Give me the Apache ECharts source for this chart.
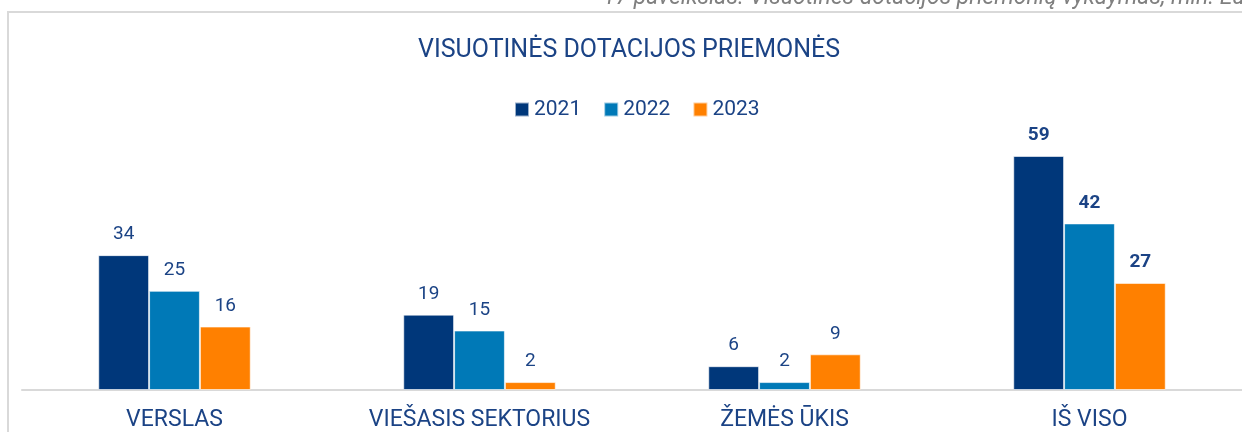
<!DOCTYPE html>
<html lang="lt">
<head>
  <meta charset="UTF-8">
  <title>Visuotinės dotacijos priemonės</title>
  <script src="https://cdn.jsdelivr.net/npm/echarts@6/dist/echarts.min.js"></script>
  <style>
    html, body { margin: 0; padding: 0; background: #fff; }
  </style>
</head>
<body>
<div id="main" style="width: 1242px;height:432px;"></div>
<script type="text/javascript">

const categories = ['VERSLAS', 'VIEŠASIS SEKTORIUS', 'ŽEMĖS ŪKIS', 'IŠ VISO'];
const years = ['2021', '2022', '2023'];
const values2021 = [34, 19, 6, 59];
const values2022 = [25, 15, 2, 42];
const values2023 = [16, 2, 9, 27];
const colors = ['#00377A', '#0079B7', '#FF8000'];
const textColor = '#1B4385';

const myChart = echarts.init(document.getElementById('main'));

function makeSeries(name, values, color) {
  return {
    name: name,
    type: 'bar',
    barGap: '0%',
    barCategoryGap: '50%',
    itemStyle: {color: color, borderColor: 'rgba(255,255,255,0.6)', borderWidth: 1},
    data: values.map(function (v, i) {
      const last = i === values.length - 1;
      return {
        value: v,
        label: {fontWeight: last ? 'bold' : 'normal'}
      };
    }),
    label: {
      show: true,
      position: 'top',
      distance: 11,
      color: textColor,
      fontFamily: 'Roboto',
      fontSize: 19
    }
  };
}

const option = {
  animation: false,
  graphic: [
    {
      type: 'rect',
      shape: {x: 8, y: 12, width: 1250, height: 440},
      style: {fill: 'none', stroke: '#D9D9D9', lineWidth: 2}
    },
    {
      type: 'text',
      left: 603,
      top: -13,
      style: {
        text: '17 paveikslas. Visuotinės dotacijos priemonių vykdymas, mln. Eur',
        font: 'italic 23px Roboto',
        fill: '#808080'
      }
    }
  ],
  title: {
    text: 'VISUOTINĖS DOTACIJOS PRIEMONĖS',
    left: 413,
    top: 33,
    textStyle: {color: textColor, fontFamily: 'Roboto', fontSize: 25, fontWeight: 'normal'}
  },
  legend: {
    data: years,
    top: 94,
    left: 509,
    icon: 'rect',
    itemWidth: 14,
    itemHeight: 14,
    itemGap: 22,
    textStyle: {color: textColor, fontFamily: 'Roboto', fontSize: 21}
  },
  grid: {left: 22, right: -1, top: 152, bottom: 42},
  xAxis: {
    type: 'category',
    data: categories,
    axisLine: {lineStyle: {color: '#D9D9D9', width: 2}},
    axisTick: {show: false},
    axisLabel: {color: textColor, fontFamily: 'Roboto', fontSize: 23, margin: 19}
  },
  yAxis: {
    type: 'value',
    min: 0,
    max: 60,
    show: false,
    splitLine: {show: false}
  },
  series: [
    makeSeries(years[0], values2021, colors[0]),
    makeSeries(years[1], values2022, colors[1]),
    makeSeries(years[2], values2023, colors[2])
  ]
};
myChart.setOption(option);
</script>
</body>
</html>
